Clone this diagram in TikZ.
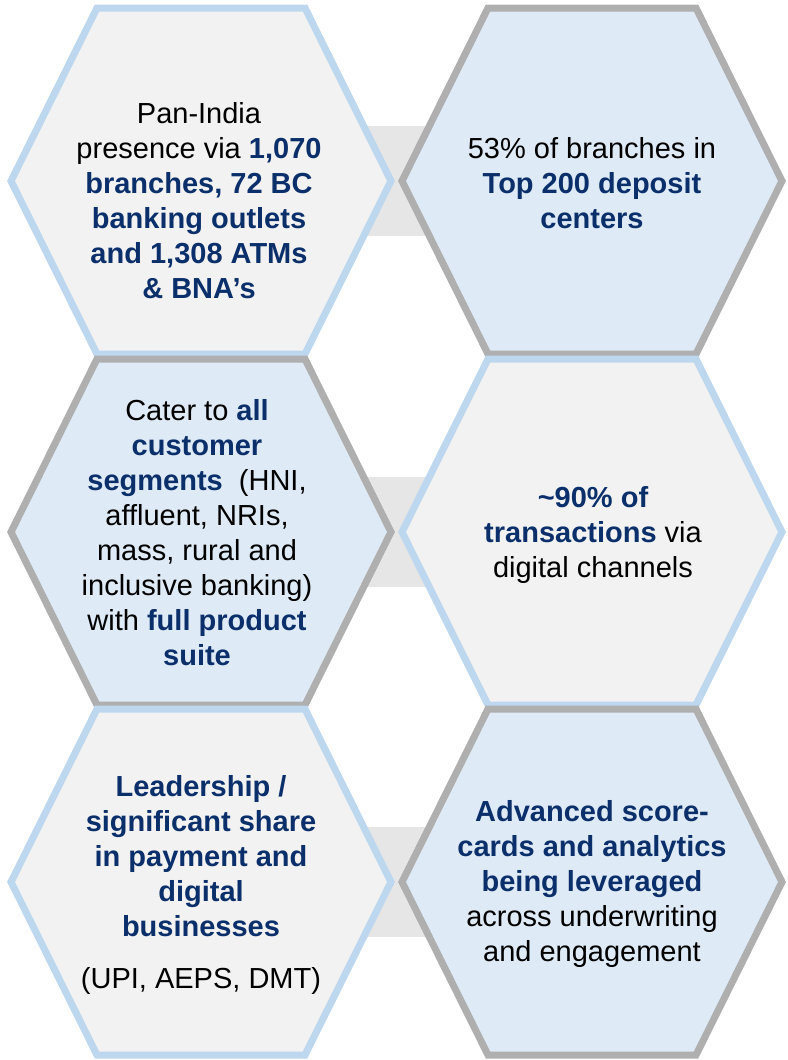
\documentclass[tikz,border=0pt]{standalone}
\usepackage{fontspec}
\setmainfont{Liberation Sans}
\usetikzlibrary{calc}
\definecolor{bluefill}{HTML}{DEEAF6}
\definecolor{greyfill}{HTML}{F2F2F2}
\definecolor{blueline}{HTML}{BDD7EE}
\definecolor{greyline}{HTML}{AFAFAF}
\definecolor{barfill}{HTML}{E6E6E6}
\definecolor{navy}{HTML}{0B2F6A}
\newcommand\hl[1]{\textbf{\color{navy}#1}}
\begin{document}
\begin{tikzpicture}[x=1pt,y=-1pt,
  hexa/.pic={\path[pic actions] (-190,0) -- (-104,-173) -- (104,-173) -- (190,0) -- (104,173) -- (-104,173) -- cycle;},
  hexA/.style={fill=greyfill,draw=blueline,line width=7pt},
  hexB/.style={fill=bluefill,draw=greyline,line width=7pt},
  bar/.style={fill=barfill},
  txt/.style={align=center,inner sep=0pt,anchor=base,text=black,font=\fontsize{29}{35}\selectfont}]
\useasboundingbox (0,0) rectangle (787,1060);
\coordinate (c11) at (201,181);
\coordinate (c12) at (592,181);
\coordinate (c21) at (201,532);
\coordinate (c22) at (592,532);
\coordinate (c31) at (201,882);
\coordinate (c32) at (592,882);
% connector bars
\fill[bar] ($(c11)+(0,-55)$) rectangle ($(c12)+(0,55)$);
\fill[bar] ($(c21)+(0,-55)$) rectangle ($(c22)+(0,55)$);
\fill[bar] ($(c31)+(0,-55)$) rectangle ($(c32)+(0,55)$);
% hexagons
\pic[hexA] at (c11) {hexa};
\pic[hexB] at (c12) {hexa};
\pic[hexB] at (c21) {hexa};
\pic[hexA] at (c22) {hexa};
\pic[hexA] at (c31) {hexa};
\pic[hexB] at (c32) {hexa};
% texts (anchor base = baseline of the last line)
\node[txt] (t11) at (199,298) {Pan-India\\presence via \hl{1,070}\\\hl{branches, 72 BC}\\\hl{banking outlets}\\\hl{and 1,308 ATMs}\\\hl{\& BNA’s}};
\node[txt] (t12) at (592,228) {53\% of branches in\\\hl{Top 200 deposit}\\\hl{centers}};
\node[txt] (t21) at (197,665) {Cater to \hl{all}\\\hl{customer}\\\hl{segments}\ \ (HNI,\\affluent, NRIs,\\mass, rural and\\inclusive banking)\\with \hl{full product}\\\hl{suite}};
\node[txt] (t22) at (593,577) {\hl{\textasciitilde90\% of}\\\hl{transactions} via\\digital channels};
\node[txt] (t31) at (201,988) {\hl{Leadership /}\\\hl{significant share}\\\hl{in payment and}\\\hl{digital}\\\hl{businesses}\\[17pt](UPI, AEPS, DMT)};
\node[txt] (t32) at (592,961) {\hl{Advanced score-}\\\hl{cards and analytics}\\\hl{being leveraged}\\across underwriting\\and engagement};
\end{tikzpicture}
\end{document}
